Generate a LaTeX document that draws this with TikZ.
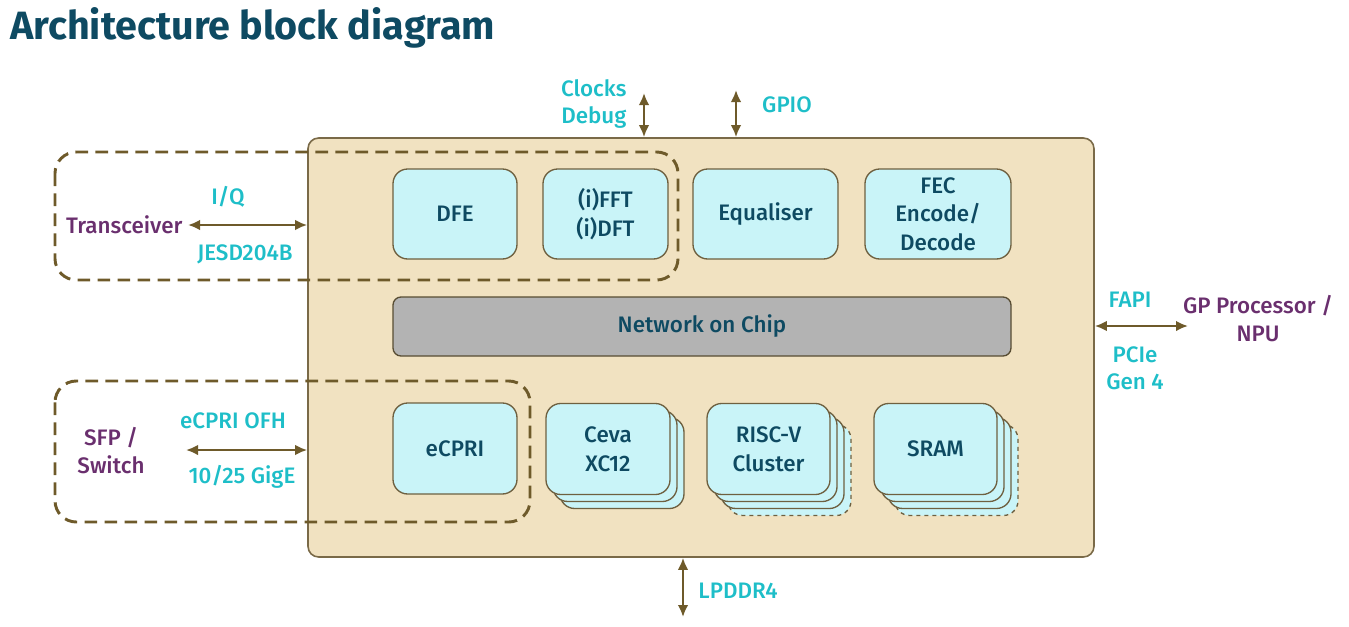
\documentclass[tikz,border=0pt]{standalone}
\usepackage{fontspec}
\setmainfont{Fira Sans}[UprightFont={* Medium},BoldFont={* Bold}]
\usetikzlibrary{arrows.meta}
\newdimen\pxu \pxu=0.75pt
\definecolor{titlecol}{RGB}{14,74,98}
\definecolor{cyantxt}{RGB}{30,190,200}
\definecolor{purptxt}{RGB}{106,47,110}
\definecolor{brown}{RGB}{110,90,42}
\definecolor{chipfill}{RGB}{241,226,193}
\definecolor{chipdraw}{RGB}{122,106,72}
\definecolor{blkfill}{RGB}{201,244,248}
\definecolor{blkdraw}{RGB}{110,96,64}
\definecolor{nocfill}{RGB}{179,179,179}
\tikzset{
  chip/.style={draw=chipdraw, fill=chipfill, line width=1.2pt, rounded corners=8pt},
  blk/.style={draw=blkdraw, fill=blkfill, line width=1pt, rounded corners=11pt,
     text=titlecol, font=\fontsize{16.8}{21.5}\selectfont, align=center, inner sep=0pt},
  noc/.style={draw=blkdraw!80!black, fill=nocfill, line width=1pt, rounded corners=6pt,
     text=titlecol, font=\fontsize{16.8}{21}\selectfont},
  dashbox/.style={draw=brown, line width=2.2pt, dash pattern=on 9.5pt off 5.5pt, rounded corners=16pt},
  arr/.style={draw=brown, line width=2.2pt, {Latex[length=9pt,width=8pt]}-{Latex[length=9pt,width=8pt]}},
  ctext/.style={text=cyantxt, font=\fontsize{16.8}{20}\selectfont, align=center, inner sep=1pt},
  ptext/.style={text=purptxt, font=\fontsize{16.8}{21}\selectfont, align=center, inner sep=1pt},
}
\begin{document}
\begin{tikzpicture}[x=0.75pt,y=-0.75pt]
\useasboundingbox (0,0) rectangle (1349,626);
% title
\node[anchor=base west, inner sep=0pt, text=titlecol, font=\fontsize{29.6}{36}\selectfont\bfseries] (title) at (10,39) {Architecture block diagram};
% chip
\node[chip, minimum width=786\pxu, minimum height=419\pxu] (chip) at (701,347.5) {};
% dashed groups
\draw[dashbox] (55,152) rectangle (678,280);
\draw[dashbox] (55,381) rectangle (530,522);
% top row blocks
\node[blk, minimum width=124\pxu, minimum height=90\pxu] (dfe) at (455,214) {DFE};
\node[blk, minimum width=125\pxu, minimum height=90\pxu] (fft) at (605.5,214) {(i)FFT\\(i)DFT};
\node[blk, minimum width=145\pxu, minimum height=90\pxu] (eq) at (765.5,214) {Equaliser};
\node[blk, minimum width=146\pxu, minimum height=90\pxu] (fec) at (938,214) {FEC\\Encode/\\Decode};
% NoC
\node[noc, minimum width=618\pxu, minimum height=59\pxu] (noc) at (702,326.5) {Network on Chip};
% bottom row
\node[blk, minimum width=124\pxu, minimum height=91\pxu] (ecpri) at (455,448.5) {eCPRI};
% Ceva stack
\node[blk, minimum width=124\pxu, minimum height=91\pxu] (ceva3) at (622,463) {};
\node[blk, minimum width=124\pxu, minimum height=91\pxu] (ceva2) at (615,456) {};
\node[blk, minimum width=124\pxu, minimum height=91\pxu] (ceva) at (608,449) {Ceva\\XC12};
% RISC-V stack
\node[blk, dashed, minimum width=123\pxu, minimum height=91\pxu] (risc4) at (789.5,470) {};
\node[blk, minimum width=123\pxu, minimum height=91\pxu] (risc3) at (782.5,463) {};
\node[blk, minimum width=123\pxu, minimum height=91\pxu] (risc2) at (775.5,456) {};
\node[blk, minimum width=123\pxu, minimum height=91\pxu] (risc) at (768.5,449) {RISC-V\\Cluster};
% SRAM stack
\node[blk, dashed, minimum width=123\pxu, minimum height=91\pxu] (sram4) at (956.5,470) {};
\node[blk, minimum width=123\pxu, minimum height=91\pxu] (sram3) at (949.5,463) {};
\node[blk, minimum width=123\pxu, minimum height=91\pxu] (sram2) at (942.5,456) {};
\node[blk, minimum width=123\pxu, minimum height=91\pxu] (sram) at (935.5,449) {SRAM};
% left labels
\node[ptext, anchor=east] (trx) at (184,225) {Transceiver};
\node[ctext] (iq) at (228,197) {I/Q};
\node[ctext] (jesd) at (245,254) {JESD204B};
\draw[arr] ([xshift=3pt]trx.east) -- (chip.west |- trx.east);
\node[ptext] (sfp) at (111,451) {SFP /\\Switch};
\node[ctext] (ofh) at (233,421) {eCPRI OFH};
\node[ctext] (gige) at (242,477) {10/25 GigE};
\coordinate (sfpA) at (186,450);
\draw[arr] (sfpA) -- (chip.west |- sfpA);
% top labels
\node[ctext, anchor=east, align=right] (clk) at (628,104) {Clocks\\Debug};
\coordinate (clkA) at (644,93);
\draw[arr] (clkA) -- (clkA |- chip.north);
\node[ctext] (gpio) at (787,105) {GPIO};
\coordinate (gpioA) at (736,90);
\draw[arr] (gpioA) -- (gpioA |- chip.north);
% right labels
\node[ctext] (fapi) at (1130,300) {FAPI};
\node[ctext] (pcie) at (1135,368) {PCIe\\Gen 4};
\node[ptext] (gpp) at (1258,319) {GP Processor /\\NPU};
\coordinate (gppA) at (1188,326);
\draw[arr] (chip.east |- gppA) -- (gppA);
% bottom
\node[ctext] (lpddr) at (738,591) {LPDDR4};
\coordinate (ddrA) at (683,617);
\draw[arr] (chip.south -| ddrA) -- (ddrA);
\end{tikzpicture}
\end{document}
